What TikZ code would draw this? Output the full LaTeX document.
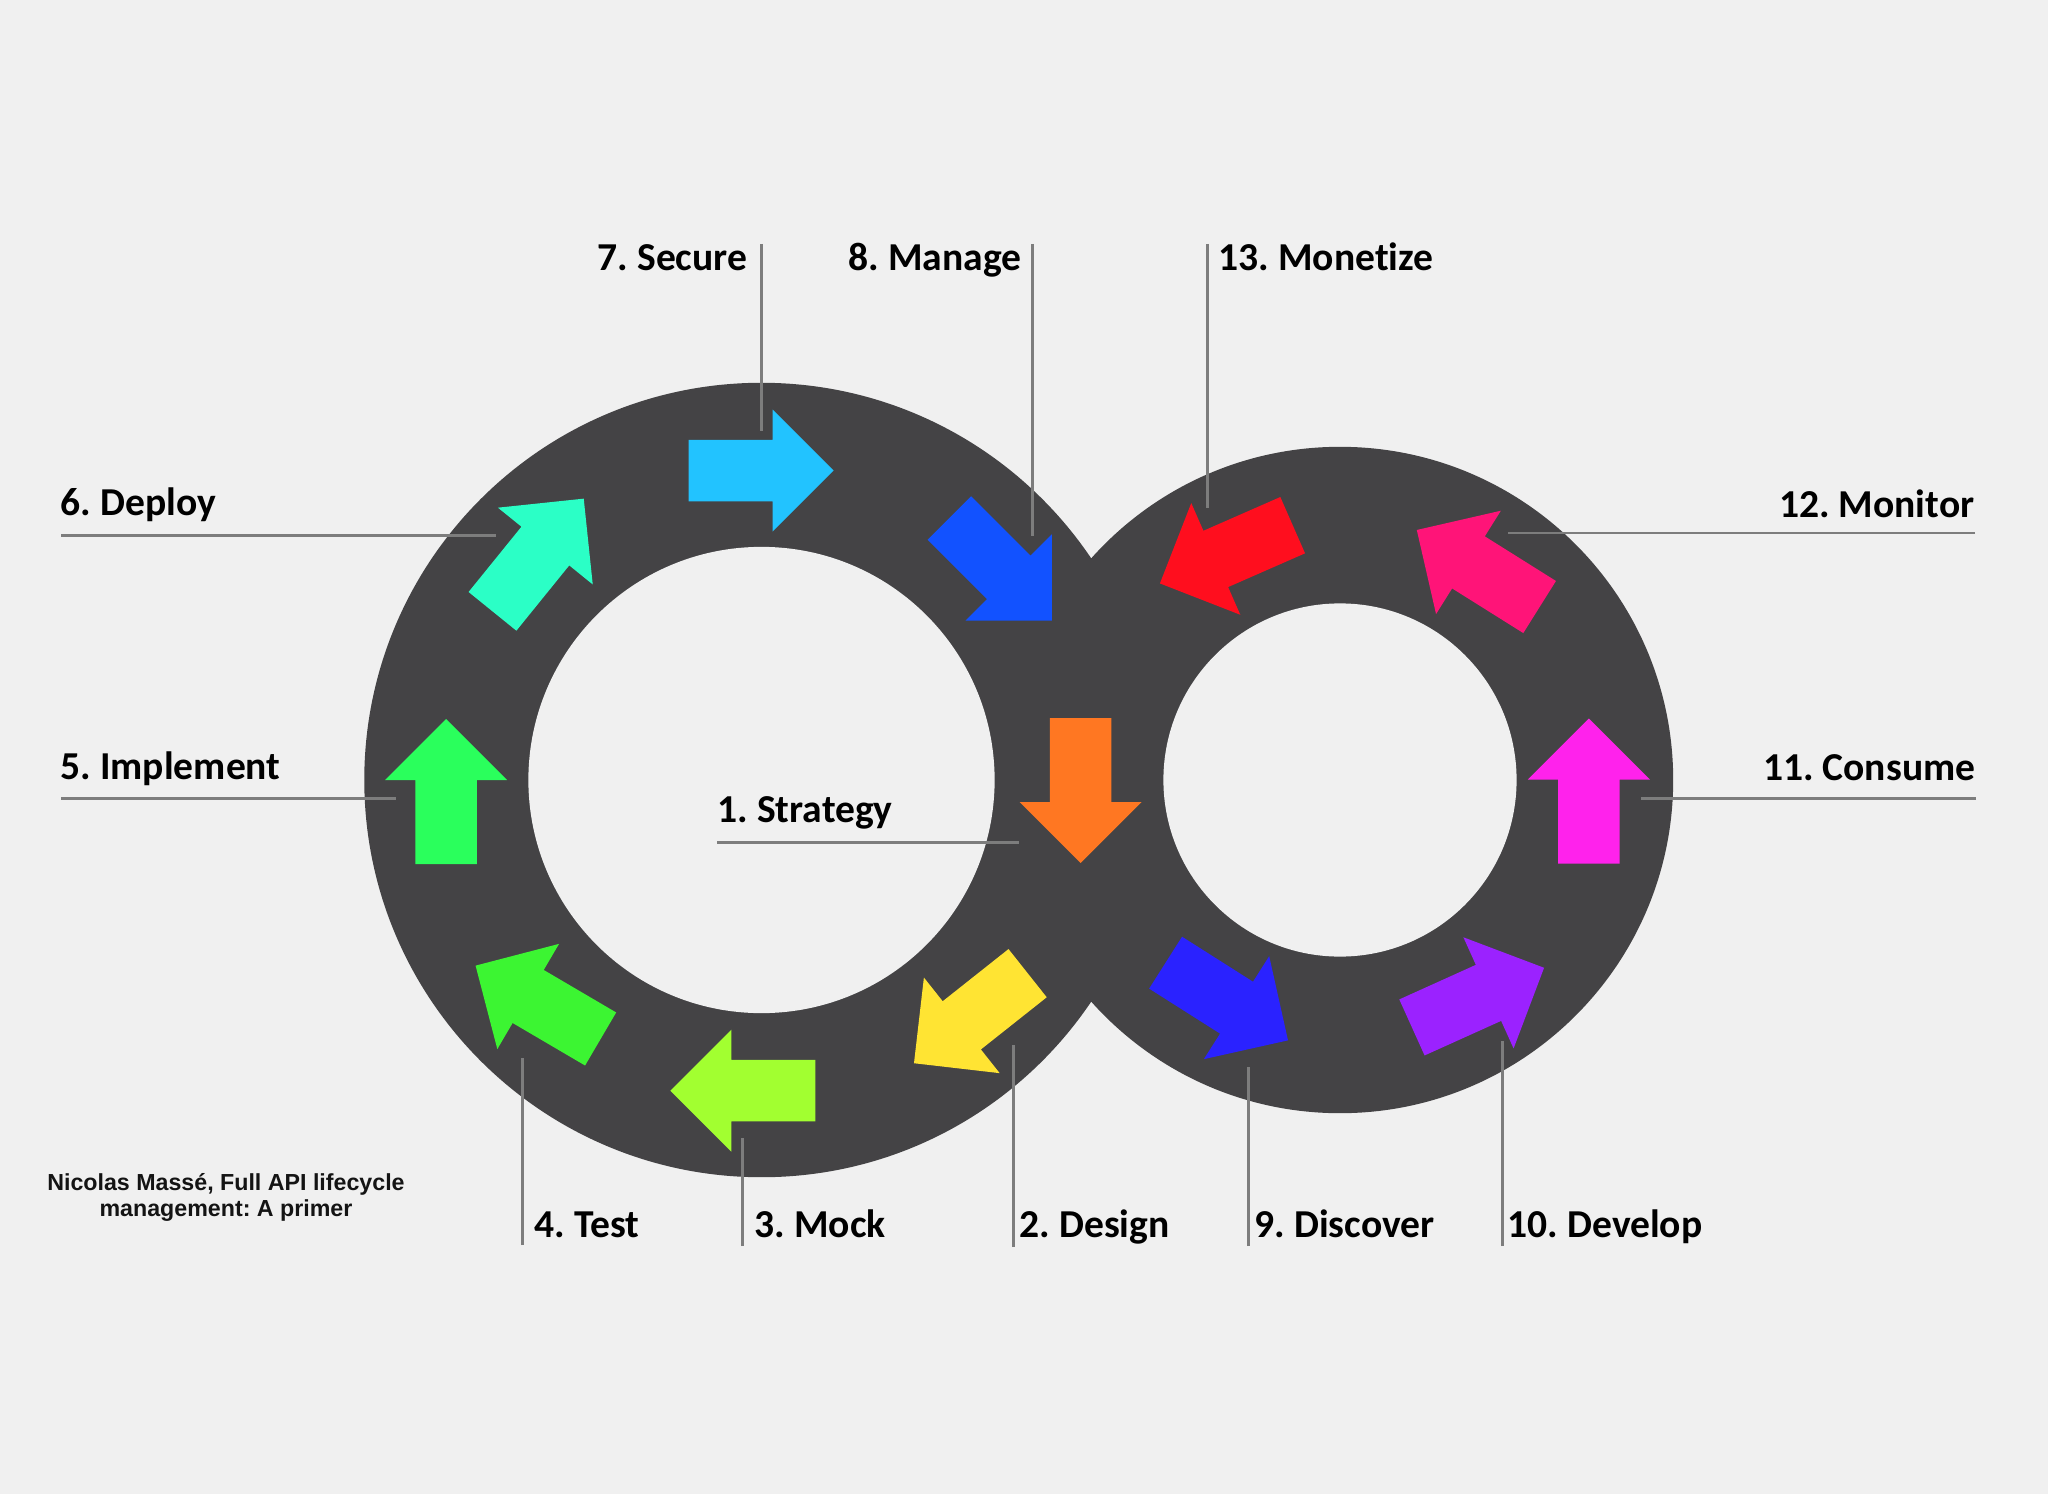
\documentclass[tikz,border=0pt]{standalone}
\usepackage{fontspec}
\setmainfont[Ligatures=NoCommon]{Carlito}
\newfontfamily\arialfont{Liberation Sans}
\definecolor{bgc}{RGB}{240,240,240}
\definecolor{ringc}{RGB}{68,67,69}
\definecolor{leadc}{RGB}{125,125,125}
\definecolor{cA}{RGB}{255,119,34}
\definecolor{cB}{RGB}{255,228,51}
\definecolor{cC}{RGB}{162,255,48}
\definecolor{cD}{RGB}{60,245,50}
\definecolor{cE}{RGB}{42,255,92}
\definecolor{cF}{RGB}{43,255,198}
\definecolor{cG}{RGB}{34,195,255}
\definecolor{cH}{RGB}{18,82,255}
\definecolor{cI}{RGB}{42,34,255}
\definecolor{cJ}{RGB}{155,34,255}
\definecolor{cK}{RGB}{255,34,236}
\definecolor{cL}{RGB}{255,20,120}
\definecolor{cM}{RGB}{255,14,30}
\begin{document}
\frenchspacing
\begin{tikzpicture}[x=0.01cm,y=-0.01cm,
  lbl/.style={font=\fontsize{11.25pt}{13pt}\selectfont\bfseries\frenchspacing, inner sep=0pt, text=black},
  leader/.style={draw=leadc, line width=0.85pt},
  blockarrow/.pic={\fill[pic actions] (-72.5,-30.75) -- (11.5,-30.75) -- (11.5,-61) -- (72.5,0) -- (11.5,61) -- (11.5,30.75) -- (-72.5,30.75) -- cycle;}
]
\useasboundingbox (0,0) rectangle (2048,1494);
\fill[bgc] (0,0) rectangle (2048,1494);

% rings
\coordinate (cl) at (761.5,780);
\coordinate (cr) at (1340,780);
\fill[ringc] (cl) circle[radius=3.97cm] (cr) circle[radius=3.33cm];
\fill[bgc] (cl) circle[radius=2.33cm];
\fill[bgc] (cr) circle[radius=1.765cm];

% labels
\node[lbl, anchor=base east] (t7) at (748,271) {7. Secure};
\node[lbl, anchor=base east] (t8) at (1022,271) {8. Manage};
\node[lbl, anchor=base west] (t13) at (1218,271) {13. Monetize};
\node[lbl, anchor=base west] (t6) at (60,515) {6. Deploy};
\node[lbl, anchor=base west] (t5) at (60,779) {5. Implement};
\node[lbl, anchor=base west] (t1) at (717,822.7) {1. Strategy};
\node[lbl, anchor=base east] (t12) at (1975,517) {12. Monitor};
\node[lbl, anchor=base east] (t11) at (1976,780) {11. Consume};
\node[lbl, anchor=base west] (t4) at (534,1237) {4. Test};
\node[lbl, anchor=base west] (t3) at (754,1237) {3. Mock};
\node[lbl, anchor=base west] (t2) at (1019,1237) {2. Design};
\node[lbl, anchor=base west] (t9) at (1254,1237) {9. Discover};
\node[lbl, anchor=base west] (t10) at (1507,1237) {10. Develop};

\node[font=\arialfont\bfseries\fontsize{6.6pt}{7.4pt}\selectfont\frenchspacing, align=center, inner sep=0pt, text={rgb,255:red,20;green,20;blue,20}] (cite) at (226,1197) {Nicolas Massé, Full API lifecycle\\management: A primer};

% leader line end points
\coordinate (s7) at (761.5,244);   \coordinate (e7) at (761.5,431);
\coordinate (s8) at (1032.7,244);  \coordinate (e8) at (1032.7,536);
\coordinate (s13) at (1207.6,244); \coordinate (e13) at (1207.6,508);
\coordinate (s6) at (61,535.5);    \coordinate (e6) at (496,535.5);
\coordinate (s5) at (61,798);      \coordinate (e5) at (396,798);
\coordinate (s1) at (717,842.5);   \coordinate (e1) at (1019,842.5);
\coordinate (s12) at (1975,533);   \coordinate (e12) at (1508,533);
\coordinate (s11) at (1976,798);   \coordinate (e11) at (1641,798);
\coordinate (s4) at (522.7,1245);  \coordinate (e4) at (522.7,1058);
\coordinate (s3) at (742,1246);    \coordinate (e3) at (742,1137.5);
\coordinate (s2) at (1013.5,1247); \coordinate (e2) at (1013.5,1045);
\coordinate (s9) at (1248.7,1246); \coordinate (e9) at (1248.7,1066.5);
\coordinate (s10) at (1502,1246);  \coordinate (e10) at (1502,1040.5);

\foreach \n in {1,...,13} {\draw[leader] (s\n) -- (e\n);}

% arrows
\pic[fill=cA, rotate=-90]   at (1080.6,790.5) {blockarrow};
\pic[fill=cB, rotate=218.4] at (970.8,1018.2) {blockarrow};
\pic[fill=cC, rotate=180]   at (742.8,1090.7) {blockarrow};
\pic[fill=cD, rotate=149.6] at (538.1,1002.3) {blockarrow};
\pic[fill=cE, rotate=90]    at (446,791.5) {blockarrow};
\pic[fill=cF, rotate=51]    at (538.1,555) {blockarrow};
\pic[fill=cG, rotate=0]     at (761.2,470.5) {blockarrow};
\pic[fill=cH, rotate=-45]   at (1000.6,569.3) {blockarrow};
\pic[fill=cI, rotate=-32.4] at (1226.8,1001.5) {blockarrow};
\pic[fill=cJ, rotate=24.3]  at (1478,997.6) {blockarrow};
\pic[fill=cK, rotate=90]    at (1588.8,791) {blockarrow};
\pic[fill=cL, rotate=147.9] at (1478.2,568.5) {blockarrow};
\pic[fill=cM, rotate=203.7] at (1226.3,554.3) {blockarrow};
\end{tikzpicture}
\end{document}
